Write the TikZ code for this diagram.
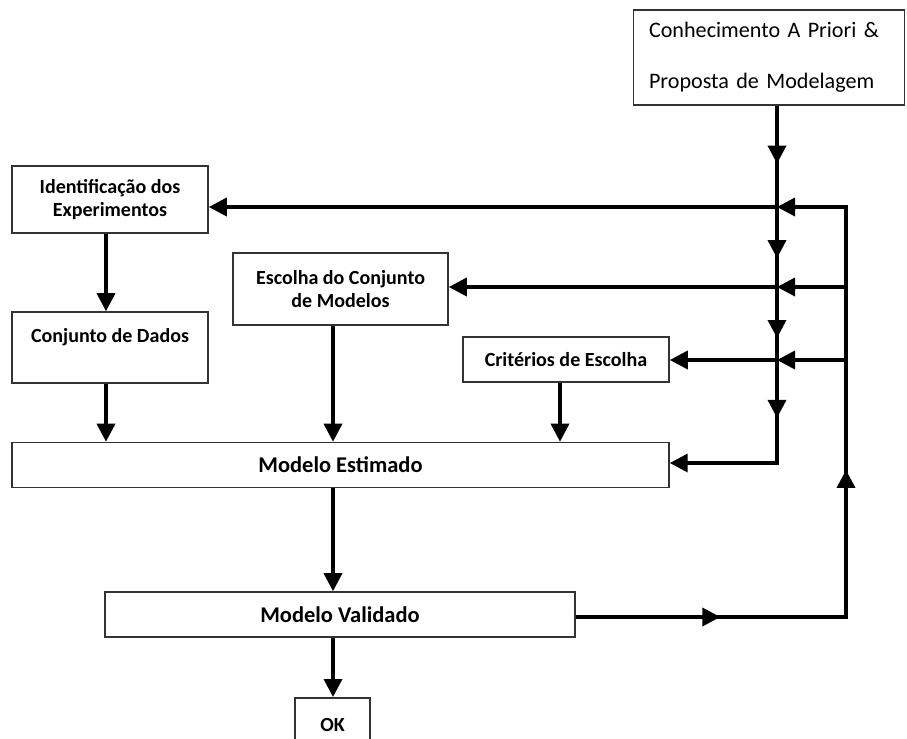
\documentclass[tikz,border=0pt]{standalone}
\usepackage{fontspec}
\setmainfont{Carlito}
\newfontfamily\tightfont[WordSpace=0.6]{Carlito}
\usetikzlibrary{arrows.meta, positioning, calc, decorations.markings}
\definecolor{BoxLine}{HTML}{333333}
\tikzset{
    stagebox/.style={
        rectangle,
        draw=BoxLine,
        fill=white,
        align=center,
        font=\bfseries\fontsize{11.4}{13.5}\selectfont,
        line width=0.9pt,
        inner sep=2pt
    },
    bigbox/.style={
        stagebox,
        font=\bfseries\fontsize{12.8}{15}\selectfont
    },
    flow/.style={
        -{Triangle[length=0.36cm, width=0.36cm]},
        line width=2pt
    },
    plainline/.style={
        line width=2pt
    },
    tipat/.style={
        postaction={decorate, decoration={markings,
            mark=at position #1 with {\arrow{Triangle[length=0.36cm, width=0.36cm]}}}}
    }
}

\begin{document}
\begin{tikzpicture}[x={(0.02cm,0)}, y={(0,-0.02cm)}]
    \useasboundingbox (0,0) rectangle (907,738);

    % Nodes
    \node[rectangle, draw=BoxLine, line width=0.9pt, minimum width=5.42cm, minimum height=1.9cm,
          text width=4.8cm, align=left, font=\tightfont\fontsize{12.6}{14}\selectfont]
          (prior) at (769,57.5)
          {Conhecimento A Priori \&\\[15pt]Proposta de Modelagem};

    \node[stagebox, minimum width=3.92cm, minimum height=1.34cm] (ident) at (110,199.5)
          {Identificação dos\\Experimentos};
    \node[stagebox, minimum width=3.92cm, minimum height=1.42cm] (dados) at (110,347.5)
          {Conjunto de Dados\\\mbox{}};
    \node[stagebox, minimum width=4.3cm, minimum height=1.44cm] (escolha) at (340.5,289)
          {Escolha do Conjunto\\de Modelos};
    \node[stagebox, minimum width=4.12cm, minimum height=0.9cm] (crit) at (566,359.5)
          {Critérios de Escolha};
    \node[bigbox, minimum width=13.14cm, minimum height=0.9cm] (est) at (340.5,465)
          {Modelo Estimado};
    \node[bigbox, minimum width=9.4cm, minimum height=0.9cm] (val) at (340,614.5)
          {Modelo Validado};
    \node[stagebox, minimum width=1.5cm, minimum height=1.1cm, anchor=north] (ok) at (332.5,697)
          {OK};

    % Columns and junctions
    \coordinate (colA) at (106,0);
    \coordinate (colB) at (333,0);
    \coordinate (colC) at (560,0);

    \coordinate (j1) at (777,207);
    \coordinate (j2) at (777,287);
    \coordinate (j3) at (777,360);
    \coordinate (c4) at (777,463);

    \coordinate (r1) at (846,207);
    \coordinate (r2) at (846,287);
    \coordinate (r3) at (846,360);
    \coordinate (r4) at (846,617);

    % Main line, tips at 163, 258, 338, 418
    \draw[flow, tipat=0.1245, tipat=0.328, tipat=0.500, tipat=0.672]
        (prior.south -| j1) -- (c4) -- (c4 -| est.east);

    % Feeds to the boxes
    \draw[flow] (j1) -- (j1 -| ident.east);
    \draw[flow] (j2) -- (j2 -| escolha.east);
    \draw[flow] (j3) -- (j3 -| crit.east);

    % Feedback loop
    \draw[flow, tipat=0.193, tipat=0.557] (val.east |- r4) -- (r4) -- (r1) -- (j1);
    \draw[flow] (r2) -- (j2);
    \draw[flow] (r3) -- (j3);

    % Downward flow
    \draw[flow] (ident.south -| colA) -- (dados.north -| colA);
    \draw[flow] (dados.south -| colA) -- (est.north -| colA);
    \draw[flow] (escolha.south -| colB) -- (est.north -| colB);
    \draw[flow] (crit.south -| colC) -- (est.north -| colC);
    \draw[flow] (est.south -| colB) -- (val.north -| colB);
    \draw[flow] (val.south -| colB) -- (ok.north -| colB);

\end{tikzpicture}
\end{document}
